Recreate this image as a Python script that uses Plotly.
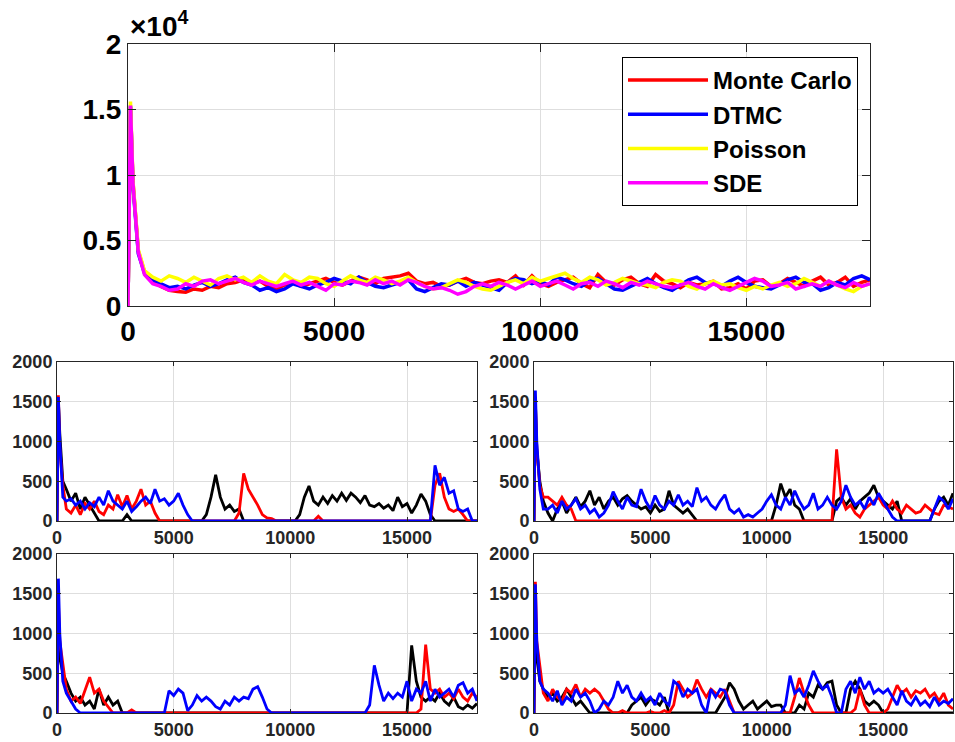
import plotly.graph_objects as go

# ---------------- time grid ----------------
HEAD_T = [0, 60, 120, 250, 400]
BODY_T = list(range(600, 18001, 200))
T = HEAD_T + BODY_T

# ---------------- top panel (values in raw units; axis shows x10^4) ----------------
top_monte_carlo = [0, 15200, 9500, 4200, 2600,
    1900, 1500, 1200, 1100, 1050, 1300, 1200, 1500, 1400, 1700,
    1800, 2000, 1700, 1900, 1500, 1300, 1600, 1800, 1500, 1700,
    1900, 2100, 1800, 1600, 1900, 2200, 2000, 1700, 2100, 2200,
    2300, 2500, 1900, 1700, 1800, 1500, 1600, 1900, 2100, 1800,
    1700, 1900, 2000, 1800, 2300, 1600, 2300, 1700, 1500, 1800,
    2000, 2200, 1700, 1400, 2400, 1800, 1600, 2000, 2200, 1700,
    1500, 2400, 1900, 1700, 1400, 1800, 1600, 1700, 1900, 1300,
    1400, 1700, 1300, 1900, 2000, 1500, 1700, 2100, 1800, 1500,
    1900, 2200, 1600, 1800, 2200, 1500, 1800, 2000]
top_dtmc = [0, 15300, 9200, 4000, 2500,
    2000, 1700, 1400, 1500, 1300, 1600, 1800, 1500, 1700, 2000,
    2200, 1800, 1600, 1200, 1400, 1100, 1300, 1700, 1500, 1300,
    1600, 1800, 2100, 1900, 1700, 2200, 1800, 1500, 1400, 1600,
    1800, 2000, 1300, 1100, 1400, 1700, 1600, 1900, 1500, 1800,
    1600, 1400, 1200, 1800, 2100, 2000, 1700, 1900, 1600, 2200,
    2000, 1700, 1500, 1900, 2100, 1700, 1300, 1200, 1500, 1800,
    2100, 1700, 1400, 1200, 1600, 2000, 2200, 1800, 1700, 1500,
    1900, 2200, 1800, 1500, 1400, 1300, 1600, 2000, 2200, 1800,
    1700, 1200, 1400, 1800, 1600, 2100, 2300, 2000]
top_poisson = [0, 15600, 9600, 4300, 2700,
    2200, 1900, 2300, 2100, 1800, 2200, 1900, 1600, 2100, 2300,
    2000, 2200, 1800, 2300, 1900, 1700, 2400, 2000, 1800, 2200,
    2100, 1700, 1500, 1900, 2300, 2000, 1800, 2200, 2000, 1700,
    1900, 2200, 1800, 1500, 1300, 1400, 1700, 2000, 1800, 1500,
    1300, 1200, 1500, 1800, 2000, 1700, 2200, 1900, 2100, 2300,
    2500, 2100, 1800, 2200, 2000, 1600, 1800, 2100, 1900, 1700,
    1600, 1400, 1800, 2000, 1900, 1500, 1300, 1700, 1900, 1600,
    1700, 1400, 1200, 1500, 1300, 1600, 1800, 1500, 1700, 2100,
    1800, 1500, 1900, 1600, 1300, 1100, 1500, 1700]
top_sde = [0, 15300, 9400, 4100, 2400,
    1700, 1500, 1200, 1300, 1700, 1500, 1900, 2000, 1700, 1900,
    2100, 1800, 1600, 1900, 1700, 1500, 1700, 1900, 1600, 1800,
    1500, 1200, 1700, 1600, 1900, 1800, 1600, 2000, 1700, 1900,
    1600, 2000, 1800, 1500, 1300, 1400, 1200, 900, 1100, 1500,
    1700, 1500, 1800, 1600, 1300, 1600, 1900, 1500, 1700, 1900,
    1600, 1300, 1700, 1800, 1500, 1900, 1700, 1400, 1800, 1600,
    1900, 1700, 1500, 1400, 1600, 1800, 1500, 1300, 1700, 1400,
    1200, 1500, 1800, 2100, 1900, 1500, 1600, 1800, 1300, 1500,
    1700, 1500, 1900, 1600, 1400, 1800, 1500, 1700]

# ---------------- panel A (middle-left) ----------------
a_black = [0, 1500, 1100, 500, 400,
    250, 350, 150, 300, 200, 100, 0, 0, 0, 0,
    0, 0, 80, 0, 0, 0, 0, 0, 0, 0,
    0, 0, 0, 0, 0, 0, 0, 0, 0, 80,
    300, 580, 300, 150, 200, 120, 150, 0, 0, 0,
    0, 0, 0, 0, 0, 0, 0, 0, 0, 80,
    300, 440, 250, 200, 300, 220, 320, 250, 350, 260,
    350, 300, 230, 320, 200, 180, 220, 160, 200, 130,
    300, 180, 220, 100, 200, 340, 250, 80, 0, 0,
    0, 0, 0, 0, 0, 0, 0, 0]
a_red = [0, 1580, 900, 450, 150,
    100, 200, 80, 220, 150, 250, 120, 80, 200, 150,
    330, 180, 320, 150, 250, 400, 200, 250, 100, 0,
    0, 0, 0, 0, 0, 0, 0, 0, 0, 0,
    0, 0, 0, 0, 0, 0, 100, 600, 400, 300,
    200, 80, 40, 30, 0, 0, 0, 0, 0, 0,
    0, 0, 0, 60, 0, 0, 0, 0, 0, 0,
    0, 0, 0, 0, 0, 0, 0, 0, 0, 0,
    0, 0, 0, 0, 0, 0, 0, 0, 450, 600,
    300, 150, 120, 150, 80, 0, 0, 0]
a_blue = [0, 1560, 1000, 300, 250,
    280, 200, 250, 150, 230, 180, 300, 200, 380, 250,
    200, 150, 250, 120, 180, 250, 300, 220, 400, 250,
    280, 200, 250, 350, 200, 80, 0, 0, 0, 0,
    0, 0, 0, 0, 0, 0, 0, 0, 0, 0,
    0, 0, 0, 0, 0, 0, 0, 0, 0, 0,
    0, 0, 0, 0, 0, 0, 0, 0, 0, 0,
    0, 0, 0, 0, 0, 0, 0, 0, 0, 0,
    0, 0, 0, 0, 0, 0, 0, 0, 700, 450,
    550, 350, 380, 150, 120, 150, 0, 0]

# ---------------- panel B (middle-right) ----------------
b_black = [0, 1500, 900, 500, 250,
    100, 0, 150, 250, 100, 200, 300, 180, 250, 380,
    200, 300, 150, 250, 300, 200, 280, 320, 250, 200,
    150, 180, 100, 200, 120, 150, 380, 200, 150, 100,
    150, 80, 0, 0, 0, 0, 0, 0, 0, 0,
    0, 0, 0, 0, 0, 0, 0, 0, 0, 200,
    470, 300, 400, 200, 150, 0, 0, 0, 0, 0,
    0, 0, 250, 300, 200, 280, 150, 250, 300, 350,
    450, 300, 250, 200, 150, 250, 0, 0, 0, 0,
    0, 0, 0, 150, 250, 300, 200, 350]
b_red = [0, 1500, 900, 450, 300,
    300, 250, 200, 300, 200, 150, 0, 0, 0, 0,
    0, 0, 0, 0, 0, 0, 0, 0, 0, 0,
    0, 0, 0, 0, 0, 0, 0, 0, 0, 0,
    0, 0, 0, 0, 0, 0, 0, 0, 0, 0,
    0, 0, 0, 0, 0, 0, 0, 0, 0, 0,
    0, 0, 0, 0, 0, 0, 0, 0, 0, 0,
    0, 0, 900, 300, 150, 200, 100, 50, 150, 200,
    250, 300, 200, 150, 250, 150, 100, 200, 150, 100,
    120, 200, 150, 100, 80, 200, 180, 150]
b_blue = [0, 1640, 1000, 400, 150,
    150, 200, 100, 250, 150, 200, 280, 150, 200, 100,
    150, 50, 100, 200, 370, 250, 150, 300, 200, 180,
    400, 250, 150, 320, 200, 150, 250, 200, 330, 200,
    250, 180, 420, 250, 300, 200, 150, 250, 330, 150,
    100, 150, 50, 80, 50, 100, 150, 250, 330, 200,
    150, 300, 200, 380, 250, 150, 200, 350, 150, 200,
    300, 200, 150, 250, 450, 300, 200, 250, 150, 300,
    200, 350, 250, 150, 50, 0, 0, 0, 0, 0,
    0, 0, 0, 150, 300, 250, 150, 280]

# ---------------- panel C (bottom-left) ----------------
c_black = [0, 1200, 700, 500, 400,
    250, 150, 200, 100, 150, 50, 300, 100, 200, 100,
    150, 0, 0, 0, 0, 0, 0, 0, 0, 0,
    0, 0, 0, 0, 0, 0, 0, 0, 0, 0,
    0, 0, 0, 0, 0, 0, 0, 0, 0, 0,
    0, 0, 0, 0, 0, 0, 0, 0, 0, 0,
    0, 0, 0, 0, 0, 0, 0, 0, 0, 0,
    0, 0, 0, 0, 0, 0, 0, 0, 0, 0,
    0, 0, 0, 850, 400, 200, 150, 200, 150, 250,
    150, 100, 200, 80, 50, 100, 60, 120]
c_red = [0, 1400, 900, 630, 300,
    150, 200, 120, 300, 450, 250, 300, 150, 80, 0,
    0, 0, 0, 40, 0, 0, 0, 0, 0, 0,
    0, 0, 0, 0, 0, 0, 0, 0, 0, 0,
    0, 0, 0, 0, 0, 0, 0, 0, 0, 0,
    0, 0, 0, 0, 0, 0, 0, 0, 0, 0,
    0, 0, 0, 0, 0, 0, 0, 0, 0, 0,
    0, 0, 0, 0, 0, 0, 0, 0, 0, 0,
    0, 0, 0, 0, 0, 50, 860, 300, 250, 300,
    200, 250, 180, 300, 200, 150, 250, 200]
c_blue = [0, 1690, 1000, 400, 250,
    150, 50, 0, 0, 0, 0, 0, 0, 0, 0,
    0, 0, 0, 0, 0, 0, 0, 0, 0, 0,
    0, 280, 220, 300, 250, 30, 100, 220, 150, 200,
    150, 80, 50, 150, 100, 200, 150, 200, 180, 300,
    330, 200, 50, 0, 0, 0, 0, 0, 0, 0,
    0, 0, 0, 0, 0, 0, 0, 0, 0, 0,
    0, 0, 0, 0, 100, 600, 350, 150, 250, 180,
    250, 200, 400, 150, 300, 250, 400, 150, 300, 200,
    250, 300, 200, 350, 380, 250, 300, 150]

# ---------------- panel D (bottom-right) ----------------
d_black = [0, 1300, 700, 400, 300,
    200, 250, 150, 200, 300, 200, 100, 150, 80, 0,
    0, 0, 0, 0, 0, 0, 0, 0, 100, 150,
    200, 100, 180, 150, 100, 200, 0, 0, 0, 0,
    0, 0, 0, 0, 0, 0, 0, 100, 200, 380,
    300, 150, 50, 100, 150, 50, 100, 150, 80, 100,
    100, 0, 0, 0, 100, 50, 250, 200, 350, 300,
    380, 400, 100, 0, 0, 300, 400, 300, 150, 100,
    150, 100, 0, 0, 0, 0, 0, 0, 0, 0,
    0, 0, 0, 0, 0, 0, 0, 0]
d_red = [0, 1650, 900, 600, 250,
    150, 300, 200, 150, 300, 250, 360, 200, 300, 250,
    300, 250, 150, 50, 0, 0, 30, 0, 0, 0,
    0, 0, 20, 0, 0, 30, 0, 100, 400, 300,
    200, 250, 420, 300, 200, 300, 250, 200, 300, 150,
    0, 0, 0, 0, 0, 0, 0, 0, 0, 0,
    0, 0, 0, 200, 440, 250, 100, 0, 0, 0,
    0, 0, 0, 0, 0, 0, 50, 300, 100, 0,
    0, 0, 0, 50, 200, 350, 250, 300, 200, 280,
    250, 300, 200, 250, 150, 250, 100, 50]
d_blue = [0, 1620, 900, 400, 300,
    250, 150, 280, 100, 200, 150, 300, 200, 250, 150,
    0, 50, 150, 100, 200, 400, 250, 350, 200, 150,
    250, 150, 200, 100, 250, 150, 100, 400, 350, 200,
    300, 250, 300, 100, 0, 300, 200, 300, 280, 100,
    0, 0, 0, 0, 0, 0, 0, 0, 0, 0,
    0, 100, 470, 250, 300, 200, 350, 530, 400, 300,
    350, 200, 0, 0, 300, 400, 250, 450, 300, 400,
    250, 300, 250, 300, 200, 100, 280, 150, 100, 200,
    100, 150, 80, 200, 100, 150, 120, 180]

# ---------------- tick labels ----------------
top_y_ticks = [0, 5000, 10000, 15000, 20000]
top_y_labels = ["0", "0.5", "1", "1.5", "2"]
x_ticks = [0, 5000, 10000, 15000]
x_labels = ["0", "5000", "10000", "15000"]
small_y_ticks = [0, 500, 1000, 1500, 2000]
small_y_labels = ["0", "500", "1000", "1500", "2000"]

RED, BLUE, YELLOW, MAGENTA, BLACK = "#ff0000", "#0000ff", "#ffff00", "#ff00ff", "#000000"
FONT = "Liberation Sans, Arial, sans-serif"

fig = go.Figure()

for name, ys, col in [("Monte Carlo", top_monte_carlo, RED), ("DTMC", top_dtmc, BLUE),
                      ("Poisson", top_poisson, YELLOW), ("SDE", top_sde, MAGENTA)]:
    fig.add_trace(go.Scatter(x=T, y=ys, mode="lines", name=name,
                             line=dict(color=col, width=3.5), xaxis="x", yaxis="y"))

panels = [("2", a_black, a_red, a_blue), ("3", b_black, b_red, b_blue),
          ("4", c_black, c_red, c_blue), ("5", d_black, d_red, d_blue)]
for k, bl, rd, bu in panels:
    for ys, col in [(bl, BLACK), (rd, RED), (bu, BLUE)]:
        fig.add_trace(go.Scatter(x=T, y=ys, mode="lines", showlegend=False,
                                 line=dict(color=col, width=2.8),
                                 xaxis="x" + k, yaxis="y" + k))

W, H = 955, 742
def fx(a, b):
    return [a / W, b / W]
def fy(top, bot):
    return [1 - bot / H, 1 - top / H]

big_font = dict(family=FONT, size=28, color="black", weight="bold")
small_font = dict(family=FONT, size=18, color="#262626", weight="bold")

def axis_common(font, ticklen, linecolor):
    return dict(showline=True, mirror="ticks", linecolor=linecolor, linewidth=1,
                ticks="inside", ticklen=ticklen, tickcolor=linecolor,
                showgrid=True, gridcolor="#dedede", gridwidth=1,
                zeroline=False, tickfont=font, automargin=False)

layout = dict(
    width=W, height=H, autosize=False,
    margin=dict(l=0, r=0, t=0, b=0),
    paper_bgcolor="white", plot_bgcolor="white",
    xaxis=dict(domain=fx(128, 870), range=[0, 18000], tickvals=x_ticks, ticktext=x_labels,
               anchor="y", **axis_common(big_font, 8, "#262626")),
    yaxis=dict(domain=fy(44, 306), range=[0, 20000], tickvals=top_y_ticks,
               ticktext=top_y_labels, anchor="x", **axis_common(big_font, 8, "#262626")),
    legend=dict(x=858 / W, y=1 - 57 / H, xanchor="right", yanchor="top",
                bgcolor="white", bordercolor="black", borderwidth=1,
                font=dict(family=FONT, size=24, color="black", weight="bold"),
                itemwidth=80, tracegroupgap=0),
)

small_boxes = {"2": (57, 477, 362, 521), "3": (534, 953, 362, 521),
               "4": (57, 477, 554, 713), "5": (534, 953, 554, 713)}
for k, (x0, x1, y0, y1) in small_boxes.items():
    layout["xaxis" + k] = dict(domain=fx(x0, x1), range=[0, 18000], tickvals=x_ticks,
                               ticktext=x_labels, anchor="y" + k,
                               **axis_common(small_font, 4, "#262626"))
    layout["yaxis" + k] = dict(domain=fy(y0, y1), range=[0, 2000], tickvals=small_y_ticks,
                               ticktext=small_y_labels, anchor="x" + k,
                               **axis_common(small_font, 4, "#262626"))

fig.update_layout(**layout)

fig.add_annotation(x=128 / W, y=1 - 44 / H, xref="paper", yref="paper",
                   xanchor="left", yanchor="bottom", showarrow=False,
                   text="×10<sup>4</sup>",
                   font=dict(family=FONT, size=28, color="black", weight="bold"))

fig.write_html("out.html", config={"displayModeBar": False},
               post_script="document.body.style.margin='0px';document.body.style.overflow='hidden';")
